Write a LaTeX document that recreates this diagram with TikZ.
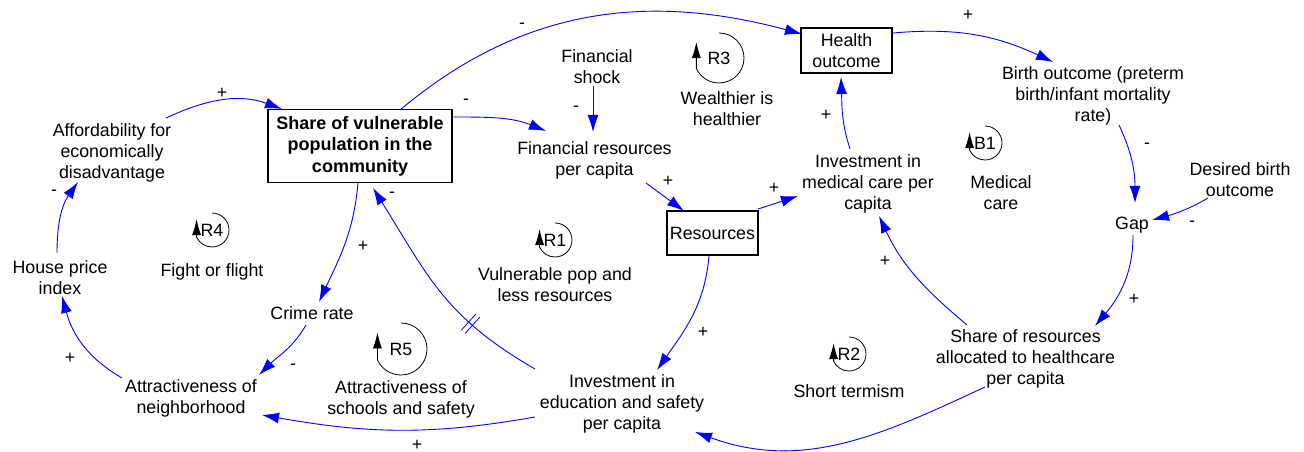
\documentclass[tikz,border=0pt]{standalone}
\usepackage{fontspec}
\setmainfont{Liberation Sans}
\usetikzlibrary{arrows.meta,positioning,calc,decorations.markings}

\tikzset{
  var/.style={align=center, inner sep=0pt, font=\fontsize{17.8}{21}\selectfont},
  level/.style={var, draw, line width=1.1pt, minimum width=91pt, minimum height=45pt},
  link/.style={draw=blue, line width=0.9pt, -{Latex[length=17pt,width=11pt]}},
  pol/.style={inner sep=0pt, font=\fontsize{17.8}{21}\selectfont},
  loopar/.style={line width=0.8pt, -{Latex[length=16pt,width=9pt]}},
  delay/.style={postaction={decorate, decoration={markings, mark=at position #1 with {\draw[blue, line width=0.8pt, -] (-2.5pt,-11pt) -- (-2.5pt,11pt) (2.5pt,-11pt) -- (2.5pt,11pt);}}}},
}

\begin{document}
\begin{tikzpicture}[x=1pt, y=1pt]
\useasboundingbox (0,0) rectangle (1304,452);

% levels
\node[level, minimum width=184pt, minimum height=73pt, font=\fontsize{18}{21.5}\selectfont\bfseries] (vul) at (360,306) {Share of vulnerable\\population in the\\community};
\node[level] (health) at (846.5,401.5) {Health\\outcome};
\node[level, minimum height=44pt] (res) at (712.5,219) {Resources};

% variables
\node[var] (afford) at (112,299) {Affordability for\\economically\\disadvantage};
\node[var] (house) at (60,174) {House price\\index};
\node[var] (crime) at (312,139) {Crime rate};
\node[var] (attrN) at (191,53.5) {Attractiveness of\\neighborhood};
\node[var] (invEd) at (622,48.5) {Investment in\\education and safety\\per capita};
\node[var] (finShock) at (597,385) {Financial\\shock};
\node[var] (finRes) at (594.5,292) {Financial resources\\per capita};
\node[var] (invMed) at (868,268.5) {Investment in\\medical care per\\capita};
\node[var] (birth) at (1093,356.5) {Birth outcome (preterm\\birth/infant mortality\\rate)};
\node[var] (desired) at (1240,272.5) {Desired birth\\outcome};
\node[var] (gap) at (1132,226.5) {Gap};
\node[var] (shareRes) at (1025.5,93) {Share of resources\\allocated to healthcare\\per capita};

% loops
\foreach \nm/\x/\y/\r in {R4/212/222/17, R5/401/103/26, R1/555/212/17, R2/849/98/17, R3/719/394/25, B1/985/309/17} {
  \node[pol] (\nm) at (\x,\y) {\nm};
  \draw[loopar] (\nm.center) ++(90:\r) arc (90:-155:\r) -- ++(0,{1.06*\r});
}
\node[var, below=27pt of R4] (fight) {Fight or flight};
\node[var, below=25pt of R5] (schools) {Attractiveness of\\schools and safety};
\node[var, below=21pt of R1] (vulpop) {Vulnerable pop and\\less resources};
\node[var, below=24pt of R2] (short) {Short termism};
\node[var, below=27pt of R3, xshift=8pt] (wealth) {Wealthier is\\healthier};
\node[var, below=26pt of B1, xshift=16pt] (medcare) {Medical\\care};

% links
\draw[link] ($(afford)+(54,35)$) to[out=25,in=160] ($(vul)+(-78,37)$);
\draw[link] ($(house)+(-3,25)$) to[out=90,in=-125] ($(afford)+(-34,-29)$);
\draw[link] ($(attrN)+(-69,20.5)$) to[out=150,in=-75] ($(house)+(2,-18)$);
\draw[link] ($(crime)+(-6,-12)$) to[out=240,in=45] ($(attrN)+(68,23.5)$);
\draw[link] ($(vul)+(-2,-37)$) to[out=265,in=65] ($(crime)+(7,11)$);
\draw[link, delay=0.32] ($(invEd)+(-87,34.5)$) to[out=150,in=-58,looseness=1.1] ($(vul)+(13,-42)$);
\draw[link] ($(invEd)+(-87,-13.5)$) to[out=190,in=-10] ($(attrN)+(71,-16.5)$);
\draw[link] ($(vul)+(92,29)$) to[out=0,in=158] ($(finRes)+(-48.5,29)$);
\draw[link] ($(vul)+(40,36)$) to[out=40,in=165] ($(health)+(-44.5,16.5)$);
\draw[link] ($(finShock)+(-4,-19)$) -- ($(finRes)+(-1.5,28)$);
\draw[link] ($(finRes)+(51.5,-23)$) -- ($(res)+(-28.5,22)$);
\draw[link] ($(res)+(45.5,24)$) -- ($(invMed)+(-70,-12.5)$);
\draw[link] ($(invMed)+(-18,34.5)$) to[out=108,in=-88] ($(health)+(-5.5,-26.5)$);
\draw[link] ($(health)+(46.5,17.5)$) to[out=5,in=155] ($(birth)+(-40,33.5)$);
\draw[link] ($(birth)+(26,-29.5)$) to[out=-65,in=90] ($(gap)+(3,22.5)$);
\draw[link] ($(desired)+(-32,-18.5)$) to[out=210,in=15] ($(gap)+(20,5.5)$);
\draw[link] ($(gap)+(1,-9.5)$) to[out=-90,in=50] ($(shareRes)+(69.5,33)$);
\draw[link] ($(shareRes)+(-58.5,34)$) to[out=140,in=-65] ($(invMed)+(11,-32.5)$);
\draw[link] ($(shareRes)+(-40.5,-28)$) to[out=205,in=-20] ($(invEd)+(73,-28.5)$);
\draw[link] ($(res)+(-3.5,-23)$) to[out=-95,in=55] ($(invEd)+(35,33.5)$);

% polarities
\foreach \s/\x/\y [count=\i] in {+/222/359, -/54/259, +/70/94, -/293/85, +/363/206, -/392/257, -/466/350, -/522/426, -/576/343, +/668/271, +/774/264, +/826/337, +/968/437, -/1147/306, -/1192/228, +/1134/153, +/885/191, +/703/120, +/417/7}
  \node[pol] (s\i) at (\x,\y) {\s};
\end{tikzpicture}
\end{document}
